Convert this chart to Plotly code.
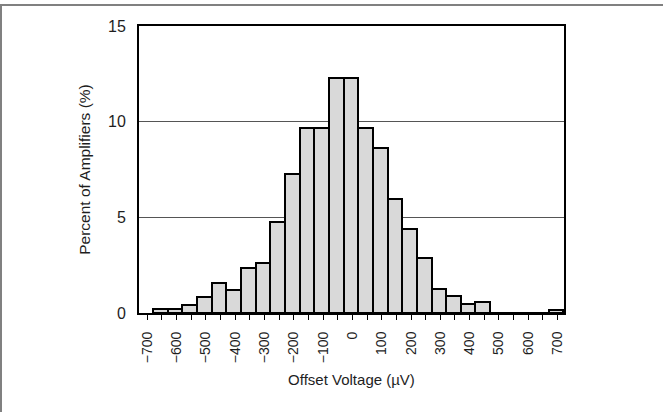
import plotly.graph_objects as go

# Histogram bins (lower edge of each 50 µV bin) and percent of amplifiers
bin_lower_uV = [-680, -630, -580, -530, -480, -430, -380, -330, -280, -230,
                -180, -130, -80, -30, 20, 70, 120, 170, 220, 270,
                320, 370, 420, 470, 520, 570, 620, 670]
percent = [0.2, 0.2, 0.4, 0.85, 1.55, 1.2, 2.35, 2.6, 4.75, 7.25,
           9.65, 9.65, 12.3, 12.3, 9.65, 8.6, 5.95, 4.4, 2.85, 1.25,
           0.9, 0.45, 0.6, 0.0, 0.0, 0.0, 0.0, 0.15]
bin_width_uV = 50

x_tick_vals = list(range(-700, 701, 50))
x_tick_text = [("−" + str(-v) if v < 0 else str(v)) if v % 100 == 0 else "" for v in x_tick_vals]
y_tick_vals = [0, 5, 10, 15]

centers = [b + bin_width_uV / 2 for b in bin_lower_uV]

FONT = "Liberation Sans Narrow, Arial Narrow, Liberation Sans, Arial, sans-serif"
TXT = "#1e1e1e"

fig = go.Figure()
fig.add_trace(go.Bar(
    x=centers, y=percent, width=[bin_width_uV] * len(centers),
    marker=dict(color="#d9d9d9", line=dict(color="black", width=2)),
    hoverinfo="x+y",
))

L, R, T, B = 139, 99, 26, 99
W, H = 663, 412
pw, ph = W - L - R, H - T - B

fig.update_layout(
    width=W, height=H,
    margin=dict(l=L, r=R, t=T, b=B),
    paper_bgcolor="white", plot_bgcolor="white",
    showlegend=False, bargap=0,
    font=dict(family=FONT, color=TXT, size=13),
    xaxis=dict(
        range=[-728, 722], tickmode="array", tickvals=x_tick_vals, ticktext=x_tick_text,
        tickangle=-90, ticks="outside", ticklen=5, tickwidth=1, tickcolor="black",
        showgrid=False, zeroline=False, showline=True, linecolor="black", linewidth=2,
        mirror=True, tickfont=dict(size=14, family=FONT, color=TXT),
        ticklabelstandoff=6,
        title=dict(text="Offset Voltage (µV)", font=dict(size=15, family=FONT, color=TXT), standoff=12),
    ),
    yaxis=dict(
        range=[0, 15], tickmode="array", tickvals=y_tick_vals,
        ticks="", showgrid=True, gridcolor="#555555", gridwidth=1,
        zeroline=False, showline=True, linecolor="black", linewidth=2, mirror=True,
        tickfont=dict(size=16, family=FONT, color=TXT), ticklabelstandoff=8,
        title=dict(text="Percent of Amplifiers (%)", font=dict(size=15.5, family=FONT, color=TXT), standoff=14),
    ),
)

# thin grey frame around the figure (top and left edges)
def px_to_paper_x(px):
    return (px - L) / pw

def px_to_paper_y(py):
    return (H - B - py) / ph

fig.add_shape(type="line", xref="paper", yref="paper",
              x0=px_to_paper_x(0), x1=px_to_paper_x(W), y0=px_to_paper_y(5), y1=px_to_paper_y(5),
              line=dict(color="#808080", width=2))
fig.add_shape(type="line", xref="paper", yref="paper",
              x0=px_to_paper_x(1), x1=px_to_paper_x(1), y0=px_to_paper_y(5), y1=px_to_paper_y(H),
              line=dict(color="#808080", width=2))

fig.write_html("out.html", config={"displayModeBar": False},
               post_script="document.body.style.margin='0';document.body.style.overflow='hidden';")
